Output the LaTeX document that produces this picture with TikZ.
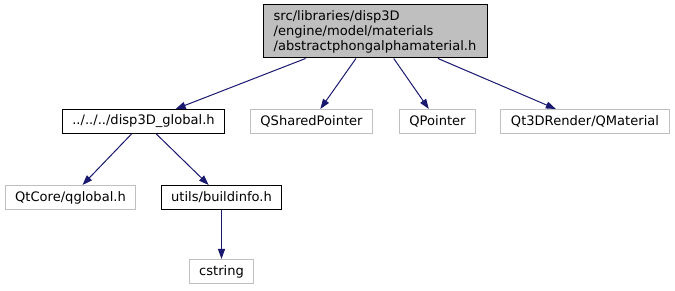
\documentclass[tikz,border=0pt]{standalone}
\usepackage{fontspec}
\setmainfont{DejaVu Sans}
\usepackage{tikz}
\usetikzlibrary{arrows.meta, positioning}

\begin{document}
\begin{tikzpicture}[
    x=0.75pt, y=-0.75pt,
    every node/.style={font=\fontsize{9.8pt}{11.25pt}\selectfont},
    mainfile/.style={rectangle, draw=black, fill=black!25, line width=0.75pt, align=left, inner xsep=8pt, minimum height=39.75pt},
    localfile/.style={rectangle, draw=black, fill=white, line width=0.75pt, inner xsep=7.5pt, minimum height=18pt},
    sysfile/.style={rectangle, draw=black!25, fill=white, line width=0.75pt, inner xsep=7.5pt, minimum height=18pt},
    arrow/.style={draw={rgb,255:red,25;green,25;blue,112}, line width=0.75pt, -{Triangle[length=7.5pt, width=5.25pt]}}
]
    \useasboundingbox (0,0) rectangle (675,291);

    \node[mainfile] (root) at (375,31.5) {src/libraries/disp3D\\/engine/model/materials\\/abstractphongalphamaterial.h};

    \node[localfile] (glob) at (143.5,121.5) {../../../disp3D\_global.h};
    \node[sysfile] (shptr) at (311.5,121.5) {QSharedPointer};
    \node[sysfile] (qptr) at (437.5,121.5) {QPointer};
    \node[sysfile] (qmat) at (585,121.5) {Qt3DRender/QMaterial};

    \node[sysfile] (qglob) at (70.5,197.5) {QtCore/qglobal.h};
    \node[localfile] (binfo) at (221.5,197.5) {utils/buildinfo.h};

    \node[sysfile] (cstr) at (221.5,271.5) {cstring};

    \draw[arrow] (root) -- (glob);
    \draw[arrow] (root) -- (shptr);
    \draw[arrow] (root) -- (qptr);
    \draw[arrow] (root) -- (qmat);
    \draw[arrow] (glob) -- (qglob);
    \draw[arrow] (glob) -- (binfo);
    \draw[arrow] (binfo) -- (cstr);
\end{tikzpicture}
\end{document}
